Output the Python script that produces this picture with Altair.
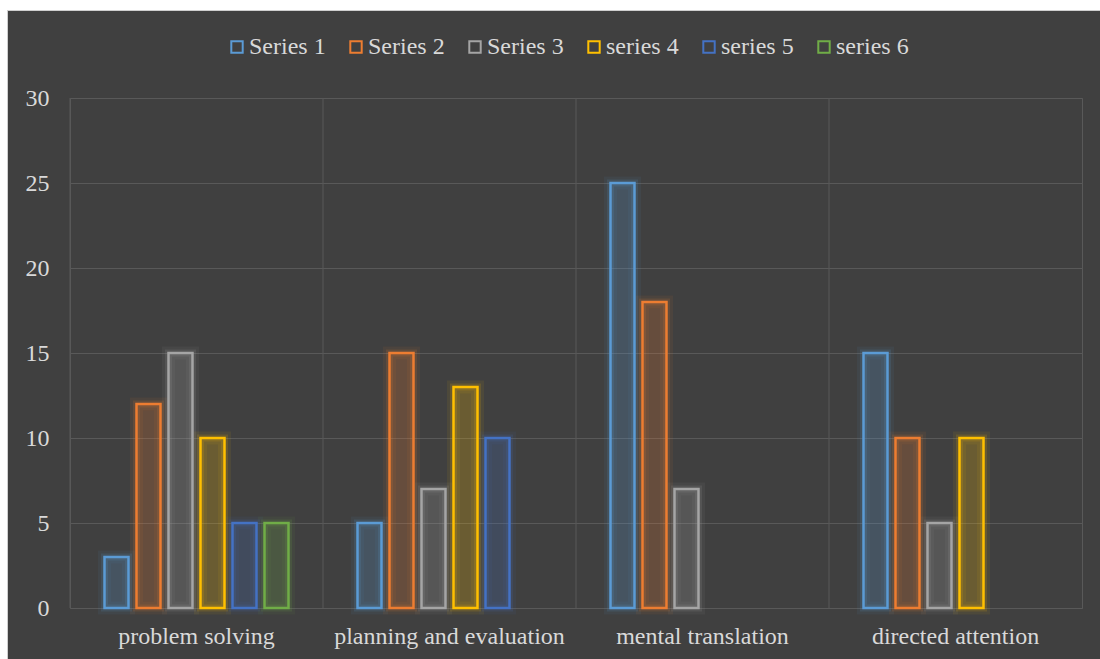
import altair as alt
import pandas as pd

categories = ["problem solving", "planning and evaluation", "mental translation", "directed attention"]
series = ["Series 1", "Series 2", "Series 3", "series 4", "series 5", "series 6"]
colors = ["#5b9bd5", "#ed7d31", "#a5a5a5", "#ffc000", "#4472c4", "#70ad47"]

s1 = [3, 5, 25, 15]
s2 = [12, 15, 18, 10]
s3 = [15, 7, 7, 5]
s4 = [10, 13, None, 10]
s5 = [5, 10, None, None]
s6 = [5, None, None, None]

rows = []
for name, vals in zip(series, [s1, s2, s3, s4, s5, s6]):
    for cat, v in zip(categories, vals):
        if v is not None:
            rows.append({"category": cat, "series": name, "sg": name, "value": v})
df = pd.DataFrame(rows)
cat_df = pd.DataFrame({"category": categories})

FONT = "Liberation Serif"
TXT = "#d9d9d9"
GRID = "#595959"
BAR_W = 24
FS = 24

x_axis = alt.Axis(title=None, labelAngle=0, domain=False, ticks=False, grid=False,
                  bandPosition=0.5, labelPadding=16, labelFontSize=FS, labelFont=FONT,
                  labelColor=TXT, labelLimit=400)
x_enc = alt.X("category:N", sort=categories, scale=alt.Scale(paddingInner=0, paddingOuter=0),
              axis=x_axis)
xo_enc = alt.XOffset("series:N", sort=series,
                     scale=alt.Scale(domain=series, paddingInner=0, paddingOuter=0.953))
y_enc = alt.Y("value:Q", scale=alt.Scale(domain=[0, 30], nice=False),
              axis=alt.Axis(title=None, values=[0, 5, 10, 15, 20, 25, 30], domain=False, ticks=False,
                            grid=True, gridColor=GRID, gridWidth=1, labelPadding=21,
                            labelFontSize=FS, labelFont=FONT, labelColor=TXT))
legend = alt.Legend(title=None, orient="none", direction="horizontal",
                    legendX=155, legendY=-63, symbolType="square",
                    symbolSize=130, symbolStrokeWidth=2, symbolFillColor="transparent",
                    symbolOpacity=1, labelOffset=0,
                    columnPadding=18, labelFont=FONT, labelFontSize=FS,
                    labelColor=TXT, padding=0)
stroke_enc = alt.Stroke("series:N", scale=alt.Scale(domain=series, range=colors), legend=legend)
glow_enc = alt.Color("sg:N", sort="ascending", scale=alt.Scale(range=colors), legend=None)
fill_enc = alt.Fill("sg:N", sort="ascending", scale=alt.Scale(range=colors), legend=None)

vgrid = alt.Chart(cat_df).mark_rule(color=GRID, strokeWidth=1).encode(
    x=alt.X("category:N", sort=categories, bandPosition=0,
            scale=alt.Scale(paddingInner=0, paddingOuter=0), axis=x_axis)
)

base = alt.Chart(df)
glow1 = base.mark_bar(filled=False, strokeWidth=13, strokeOpacity=0.07, width=BAR_W).encode(
    x=x_enc, xOffset=xo_enc, y=y_enc, color=glow_enc,
)
glow2 = base.mark_bar(filled=False, strokeWidth=7, strokeOpacity=0.14, width=BAR_W).encode(
    x=x_enc, xOffset=xo_enc, y=y_enc, color=glow_enc,
)
fill = base.mark_bar(fillOpacity=0.22, strokeWidth=0, width=BAR_W).encode(
    x=x_enc, xOffset=xo_enc, y=y_enc, fill=fill_enc,
)
outline = base.mark_bar(filled=False, strokeWidth=2.5, width=BAR_W).encode(
    x=x_enc, xOffset=xo_enc, y=y_enc, stroke=stroke_enc,
)

one = pd.DataFrame({"k": [0]})
strip_top = alt.Chart(one).mark_rect(color="#ffffff").encode(
    x=alt.value(-70), x2=alt.value(1030), y=alt.value(-98), y2=alt.value(-88))
strip_left = alt.Chart(one).mark_rect(color="#ffffff").encode(
    x=alt.value(-70), x2=alt.value(-62), y=alt.value(-98), y2=alt.value(561))
edge_top = alt.Chart(one).mark_rect(color="#cfcfcf").encode(
    x=alt.value(-62), x2=alt.value(1030), y=alt.value(-88), y2=alt.value(-87))
edge_left = alt.Chart(one).mark_rect(color="#cfcfcf").encode(
    x=alt.value(-63), x2=alt.value(-62), y=alt.value(-88), y2=alt.value(561))

chart = alt.layer(vgrid, glow1, glow2, fill, outline,
                  strip_top, strip_left, edge_top, edge_left).properties(
    width=1012, height=510,
    autosize=alt.AutoSizeParams(type="none"),
    padding={"left": 70, "top": 98, "right": 18, "bottom": 51},
    background="#404040",
).configure_view(stroke=GRID, strokeWidth=1)

chart.save("out.html", embed_options={"renderer": "svg", "actions": False})
